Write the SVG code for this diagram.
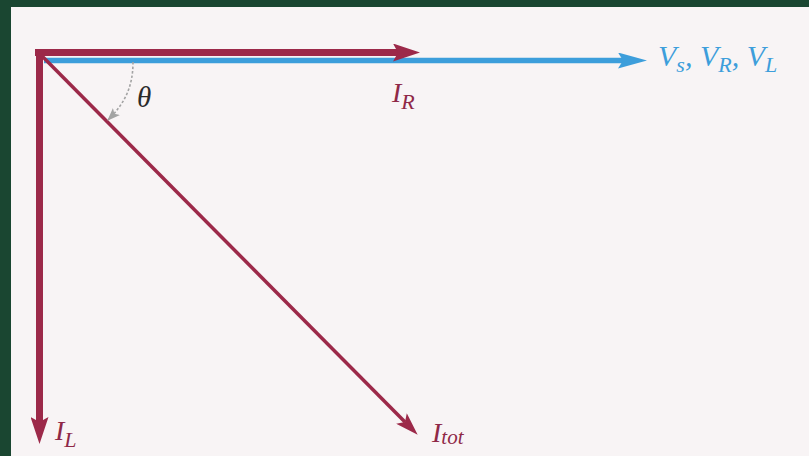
<svg xmlns="http://www.w3.org/2000/svg" width="809" height="456" viewBox="0 0 809 456">
  <defs>
    <style>
      .red { stroke: #9c2949; fill: none; }
      .blue { stroke: #3d9edb; fill: none; }
      .lbl { font-family: "Liberation Serif", "Times New Roman", serif; font-style: italic; }
      .redtxt { fill: #8f2847; }
      .bluetxt { fill: #3d9edb; }
    </style>
    <marker id="redHead" markerUnits="userSpaceOnUse" viewBox="0 0 27 18" markerWidth="27" markerHeight="18" refX="5" refY="9" orient="auto">
      <path d="M0,0 L27,9 L0,18 L5,9 Z" fill="#9c2949"/>
    </marker>
    <marker id="redHeadSmall" markerUnits="userSpaceOnUse" viewBox="0 0 23 15" markerWidth="23" markerHeight="15" refX="5" refY="7.5" orient="auto">
      <path d="M0,0 L23,7.5 L0,15 L5,7.5 Z" fill="#9c2949"/>
    </marker>
    <marker id="blueHead" markerUnits="userSpaceOnUse" viewBox="0 0 29 16" markerWidth="29" markerHeight="16" refX="5" refY="8" orient="auto">
      <path d="M0,0 L29,8 L0,16 L5,8 Z" fill="#3d9edb"/>
    </marker>
    <marker id="grayHead" markerUnits="userSpaceOnUse" viewBox="0 0 13 10" markerWidth="13" markerHeight="10" refX="12" refY="5" orient="auto">
      <path d="M0,0 L13,5 L0,10 L3,5 Z" fill="#a3a3a3"/>
    </marker>
  </defs>

  <rect x="0" y="0" width="809" height="456" fill="#1a4631"/>
  <rect x="11" y="7" width="798" height="449" fill="#f8f4f5"/>

  <g id="connectors">
    <line id="v-phasor" class="blue" x1="44" y1="60.5" x2="623" y2="60.5" stroke-width="5.5" marker-end="url(#blueHead)"/>
    <line id="i-r" class="red" x1="35" y1="52.5" x2="398" y2="52.5" stroke-width="7" marker-end="url(#redHead)"/>
    <line id="i-l" class="red" x1="39.5" y1="49" x2="39.5" y2="422" stroke-width="7" marker-end="url(#redHead)"/>
    <line id="i-tot" class="red" x1="41" y1="55" x2="405" y2="422" stroke-width="3.5" marker-end="url(#redHeadSmall)"/>
    <path id="theta-arc" d="M133,62 C133,88 124,104 108,120" fill="none" stroke="#a3a3a3" stroke-width="1.6" stroke-dasharray="2.5 2" marker-end="url(#grayHead)"/>
  </g>

  <g id="label-v">
    <text class="lbl bluetxt" x="658" y="66" font-size="30">V<tspan font-size="22" dy="6">s</tspan><tspan dy="-6">, V</tspan><tspan font-size="22" dy="6">R</tspan><tspan dy="-6">, V</tspan><tspan font-size="22" dy="6">L</tspan></text>
  </g>
  <g id="label-ir">
    <text class="lbl redtxt" x="392" y="102" font-size="28">I<tspan font-size="22" dy="7">R</tspan></text>
  </g>
  <g id="label-il">
    <text class="lbl redtxt" x="55" y="440" font-size="28">I<tspan font-size="22" dy="7">L</tspan></text>
  </g>
  <g id="label-itot">
    <text class="lbl redtxt" x="432" y="442" font-size="28">I<tspan font-size="21" dy="2">tot</tspan></text>
  </g>
  <g id="label-theta">
    <text class="lbl" x="137" y="107" font-size="29" fill="#2b2b2b">θ</text>
  </g>
</svg>
